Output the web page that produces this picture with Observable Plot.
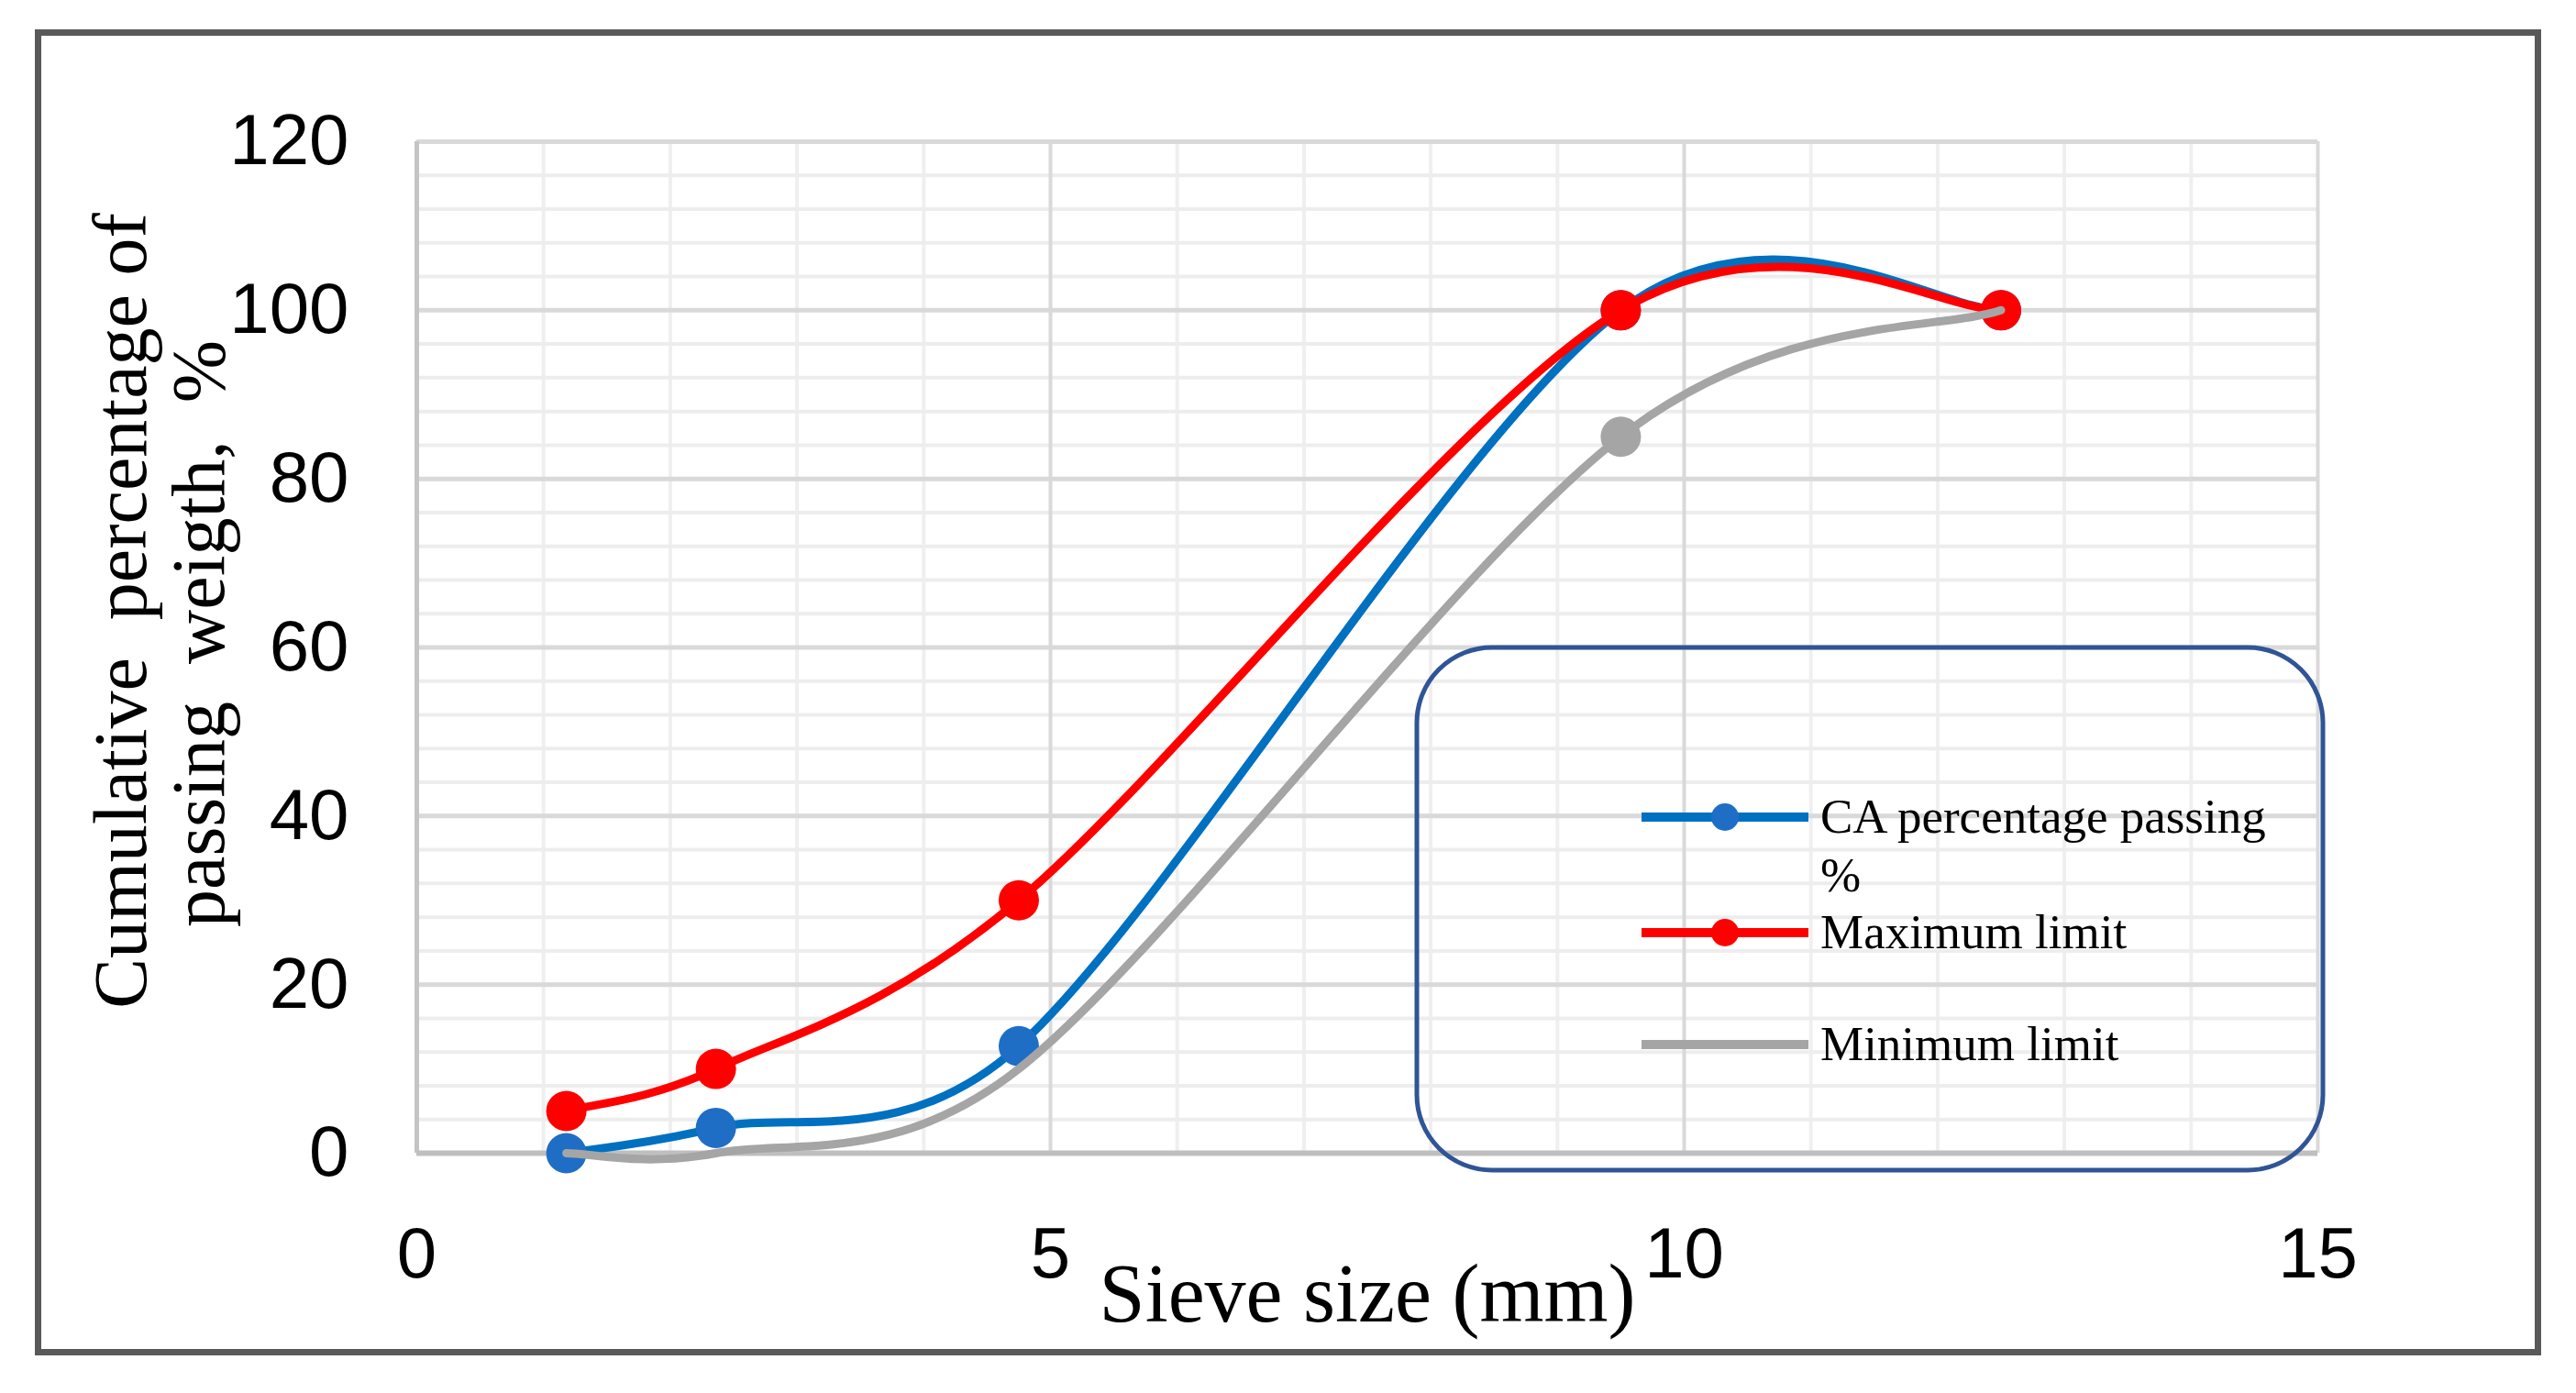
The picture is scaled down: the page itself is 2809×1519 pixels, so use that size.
<!DOCTYPE html>
<html>
<head>
<meta charset="utf-8">
<script src="https://cdn.jsdelivr.net/npm/d3@7"></script>
<script src="https://cdn.jsdelivr.net/npm/@observablehq/plot@0.6"></script>
<style>
html, body { margin: 0; padding: 0; background: #ffffff; }
#wrap { position: relative; width: 2809px; height: 1519px; overflow: hidden; }
#frame { position: absolute; left: 38px; top: 32px; width: 2733px; height: 1446px; border: 7px solid #595959; box-sizing: border-box; pointer-events: none; }
</style>
</head>
<body>
<div id="wrap"><div id="frame"></div></div>
<script>
// ---- data ----
const sieveSize = [1.18, 2.36, 4.75, 9.5, 12.5];          // mm
const caPassing = [0, 3, 12.7, 100, 100];                 // CA percentage passing %
const maxLimit  = [5, 10, 30, 100, 100];                  // Maximum limit
const minLimit  = [0, 0, 10, 85, 100];                    // Minimum limit
const minLimitMarked = [false, false, false, true, false];
const seriesNames = ["CA percentage passing", "Maximum limit", "Minimum limit"];
const xTicks = [0, 5, 10, 15];
const yTicks = [0, 20, 40, 60, 80, 100, 120];
const xTitle = "Sieve size (mm)";
const yTitleLines = ["Cumulative\u00A0\u00A0percentage of", "passing\u00A0\u00A0weigth,\u00A0\u00A0%"];

const colors = { ca: "#0070C0", caDot: "#1F6EC6", max: "#FF0000", min: "#A5A5A5" };

const rows = (vals) => sieveSize.map((x, i) => ({ x, y: vals[i], i }));
const caRows = rows(caPassing);
const maxRows = rows(maxLimit);
const minRows = rows(minLimit);

// Spreadsheet-style smoothed line: Bezier segments whose control arms are
// (next - previous)/6, capped at half of the segment chord.
function smoothCurve(context) {
  let pts = [];
  const dist = (a, b) => Math.hypot(b[0] - a[0], b[1] - a[1]);
  return {
    areaStart() {}, areaEnd() {},
    lineStart() { pts = []; },
    point(x, y) { pts.push([+x, +y]); },
    lineEnd() {
      const n = pts.length;
      if (!n) return;
      context.moveTo(pts[0][0], pts[0][1]);
      if (n === 2) { context.lineTo(pts[1][0], pts[1][1]); return; }
      for (let i = 0; i < n - 1; i++) {
        const p0 = pts[Math.max(0, i - 1)], p1 = pts[i], p2 = pts[i + 1], p3 = pts[Math.min(n - 1, i + 2)];
        const d12 = dist(p1, p2), d02 = dist(p0, p2), d13 = dist(p1, p3);
        let f1 = 1 / 6, f2 = 1 / 6;
        if (d02 > 0 && d02 / 6 > d12 / 2) f1 = d12 / (2 * d02);
        if (d13 > 0 && d13 / 6 > d12 / 2) f2 = d12 / (2 * d13);
        const c1x = p1[0] + f1 * (p2[0] - p0[0]), c1y = p1[1] + f1 * (p2[1] - p0[1]);
        const c2x = p2[0] - f2 * (p3[0] - p1[0]), c2y = p2[1] - f2 * (p3[1] - p1[1]);
        context.bezierCurveTo(c1x, c1y, c2x, c2y, p2[0], p2[1]);
      }
    }
  };
}

const W = 2809, H = 1519;
const mL = 454, mR = W - 2527, mT = 154, mB = H - 1257;

const minorX = d3.range(0, 15.001, 1).filter(v => v % 5 !== 0);
const minorY = d3.range(0, 120.001, 4).filter(v => v % 20 !== 0);

const serif = "'Liberation Serif', 'Times New Roman', serif";

const plot = Plot.plot({
  width: W,
  height: H,
  marginLeft: mL,
  marginRight: mR,
  marginTop: mT,
  marginBottom: mB,
  style: { fontFamily: "'Liberation Sans', Arial, sans-serif", fontSize: "78px", color: "#000", background: "transparent", overflow: "visible" },
  x: { domain: [0, 15], ticks: xTicks, tickSize: 0, tickPadding: 80, label: null },
  y: { domain: [0, 120], ticks: yTicks, tickSize: 0, tickPadding: 74, label: null },
  marks: [
    Plot.gridX(minorX, { stroke: "#EFEFEF", strokeOpacity: 1, strokeWidth: 4 }),
    Plot.gridY(minorY, { stroke: "#EDEDED", strokeOpacity: 1, strokeWidth: 4 }),
    Plot.gridX(xTicks.filter(v => v > 0), { stroke: "#D9D9D9", strokeOpacity: 1, strokeWidth: 4 }),
    Plot.gridY(yTicks.filter(v => v > 0), { stroke: "#D9D9D9", strokeOpacity: 1, strokeWidth: 5 }),
    Plot.ruleX([0], { stroke: "#C4C4C4", strokeWidth: 5 }),
    Plot.ruleY([0], { stroke: "#BFBFBF", strokeWidth: 6 }),
    // CA series
    Plot.line(caRows, { x: "x", y: "y", stroke: colors.ca, strokeWidth: 9, curve: smoothCurve }),
    Plot.dot(caRows, { x: "x", y: "y", r: 22, fill: colors.caDot, stroke: "none" }),
    // Maximum limit
    Plot.line(maxRows, { x: "x", y: "y", stroke: colors.max, strokeWidth: 9, curve: smoothCurve }),
    Plot.dot(maxRows, { x: "x", y: "y", r: 22, fill: colors.max, stroke: "none" }),
    // Minimum limit
    Plot.line(minRows, { x: "x", y: "y", stroke: colors.min, strokeWidth: 9, curve: smoothCurve }),
    Plot.dot(minRows.filter(d => minLimitMarked[d.i]), { x: "x", y: "y", r: 22, fill: colors.min, stroke: "none" }),
    // titles
    Plot.text([xTitle], { frameAnchor: "bottom", lineAnchor: "bottom", textAnchor: "middle", dy: 183, text: d => d, fontFamily: serif, fontSize: 90, fill: "#000" }),
    Plot.text([yTitleLines[0]], { frameAnchor: "left", lineAnchor: "bottom", textAnchor: "middle", rotate: -90, dx: -296, dy: -40, text: d => d, fontFamily: serif, fontSize: 82, fill: "#000" }),
    Plot.text([yTitleLines[1]], { frameAnchor: "left", lineAnchor: "bottom", textAnchor: "middle", rotate: -90, dx: -211, dy: -15, text: d => d, fontFamily: serif, fontSize: 82, fill: "#000" })
  ]
});

document.getElementById("wrap").prepend(plot);
plot.style.position = "absolute";
plot.style.left = "0px";
plot.style.top = "0px";

// ---- legend (inside the plot area) ----
const svg = d3.select(plot);
const lg = svg.append("g").attr("class", "legend").attr("text-anchor", "start");
lg.append("rect")
  .attr("x", 1545).attr("y", 706).attr("width", 988).attr("height", 570)
  .attr("rx", 82).attr("ry", 82)
  .attr("fill", "none").attr("stroke", "#2F5597").attr("stroke-width", 5);

const entries = [
  { color: colors.ca, dot: colors.caDot, y: 891, lines: [seriesNames[0], "%"] },
  { color: colors.max, dot: colors.max, y: 1017, lines: [seriesNames[1]] },
  { color: colors.min, dot: null, y: 1139, lines: [seriesNames[2]] }
];
for (const e of entries) {
  lg.append("line").attr("x1", 1790).attr("x2", 1972).attr("y1", e.y).attr("y2", e.y)
    .attr("stroke", e.color).attr("stroke-width", 10);
  if (e.dot) lg.append("circle").attr("cx", 1881).attr("cy", e.y).attr("r", 15).attr("fill", e.dot);
  const t = lg.append("text").attr("x", 1985).attr("y", e.y + 17).attr("text-anchor", "start")
    .attr("font-family", serif).attr("font-size", 53).attr("fill", "#000");
  e.lines.forEach((ln, k) => {
    t.append("tspan").attr("x", 1985).attr("dy", k === 0 ? 0 : 64).text(ln);
  });
}
</script>
</body>
</html>
